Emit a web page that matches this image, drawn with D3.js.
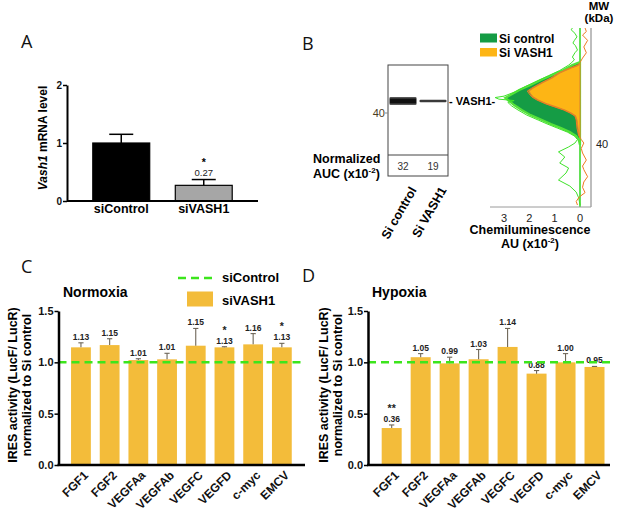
<!DOCTYPE html>
<html>
<head>
<meta charset="utf-8">
<script src="https://cdn.jsdelivr.net/npm/d3@7"></script>
<style>
  body { margin: 0; background: #fff; }
  svg { display: block; }
</style>
</head>
<body>
<svg id="fig" width="617" height="516"></svg>
<script>
// ---------- data ----------
// A: Vash1 mRNA
const rnaGroups = ['siControl', 'siVASH1'];
const rnaMean = [1.0, 0.27];
const rnaSem = [0.15, 0.10];
const rnaTicks = [0, 1, 2];

// B: capillary western
const laneNames = ['Si control', 'Si VASH1'];
const laneAuc = [32, 19];
const chemiTicks = [3, 2, 1, 0];
// [migration position (a.u., 0 = top), chemiluminescence x10^-2]
const ctrlPeak = [[19.2, 0], [20.9, 0.3], [23.7, 0.65], [26.6, 1.1], [29.4, 1.55], [32.2, 1.95],
  [35, 2.4], [37.9, 2.75], [39.5, 2.95], [41.2, 2.8], [43.5, 2.6], [46.3, 2.3], [49.2, 1.95],
  [52, 1.5], [54.2, 1.15], [56.5, 0.75], [58.8, 0.4], [61, 0.15], [63.3, 0.05], [66.1, 0]];
const vashPeak = [[20.3, 0], [21.5, 0.12], [22.6, 0.35], [25.4, 0.8], [28.2, 1.1], [31.1, 1.5],
  [33.9, 1.85], [35.6, 2.02], [37.3, 1.95], [39, 1.85], [40.7, 1.65], [42.9, 1.3], [44.6, 0.95],
  [46.3, 0.6], [48, 0.35], [49.7, 0.18], [52, 0.12], [56.5, 0.08], [60.5, 0.04], [62.1, 0]];
const ctrlTrace = [[0, 0.3], [1, 0.35], [3, 0.2], [5, 0.12], [7, 0.22], [8.5, 0.28], [10, 0.18],
  [12.4, 0.1], [14, 0.2], [16.4, 0.3], [18, 0.22], [19.8, 0.35], [21, 0.45], [24, 0.8], [27, 1.25],
  [30, 1.7], [33, 2.15], [36, 2.55], [38.5, 3.0], [39.3, 3.35], [40.2, 3.2], [41, 2.6], [42, 2.85],
  [44, 2.7], [46.3, 2.45], [49.2, 2.1], [52, 1.65], [54.2, 1.3], [56.5, 0.9], [58.8, 0.5], [61, 0.22],
  [63, 0.1], [65, 0.2], [67.2, 0.45], [70, 0.85], [72.9, 0.6], [76.3, 0.8], [79.1, 0.45], [81.9, 0.55],
  [85.9, 0.85], [89.3, 0.4], [92.7, 0.15], [96, 0.05], [100, 0]];
const vashTrace = [[0, -0.2], [2, -0.25], [4, -0.1], [7, -0.3], [10.7, -0.15], [14, -0.25], [17, -0.1],
  [19.5, 0], [21, 0.1], [22.6, 0.4], [25.4, 0.85], [28.2, 1.15], [31.1, 1.55], [33.9, 1.9], [35.6, 2.08],
  [37.3, 2.0], [39, 1.9], [40.7, 1.7], [42.9, 1.35], [44.6, 1.0], [46.3, 0.65], [48, 0.4], [49.7, 0.2],
  [52, 0.15], [56.5, 0.12], [60.5, 0.06], [63, -0.05], [65, -0.15], [68, -0.05], [70.6, -0.1],
  [74.6, -0.25], [78, -0.1], [80, -0.15], [84, -0.3], [87, -0.15], [90, -0.1], [93, -0.2], [95.5, 0.03],
  [98, 0.15], [100, 0.1]];

// C / D: IRES activity
const iresGenes = ['FGF1', 'FGF2', 'VEGFAa', 'VEGFAb', 'VEGFC', 'VEGFD', 'c-myc', 'EMCV'];
const iresTicks = [0, 0.5, 1.0, 1.5];
const normoxiaMean = [1.146, 1.168, 1.022, 1.029, 1.162, 1.146, 1.175, 1.146];
const normoxiaErr = [0.044, 0.062, 0.013, 0.059, 0.168, 0.006, 0.105, 0.039];
const normoxiaLabels = ['1.13', '1.15', '1.01', '1.01', '1.15', '1.13', '1.16', '1.13'];
const normoxiaStars = ['', '', '', '', '', '*', '', '*'];
const hypoxiaMean = [0.36, 1.05, 0.99, 1.03, 1.15, 0.89, 1.00, 0.955];
const hypoxiaErr = [0.03, 0.035, 0.06, 0.095, 0.18, 0.03, 0.085, 0.005];
const hypoxiaLabels = ['0.36', '1.05', '0.99', '1.03', '1.14', '0.88', '1.00', '0.95'];
const hypoxiaStars = ['**', '', '', '', '', '', '', ''];

// ---------- drawing ----------
const FONT = '"Liberation Sans", Arial, sans-serif';
const GOLD = '#f3bc3a';
const LIME = '#3ce51c';

const svg = d3.select('#fig').attr('font-family', FONT);
svg.append('rect').attr('width', 617).attr('height', 516).attr('fill', '#fff');

function letter(t, x, y) {
  svg.append('text').attr('x', x).attr('y', y).attr('font-family', '"Open Sans", sans-serif')
    .attr('font-size', 18).attr('fill', '#111').text(t);
}
letter('A', 21, 48);
letter('B', 302, 50);
letter('C', 21, 273);
letter('D', 302, 282);

function styleAxis(g, size) {
  g.attr('font-family', FONT).attr('font-size', size).attr('font-weight', 'bold');
  g.selectAll('text').attr('fill', '#111');
}

// ===== Panel A =====
const gA = svg.append('g');
const xA = d3.scaleBand().domain(rnaGroups).range([80, 245]).paddingInner(0.31).paddingOuter(0.155);
const yA = d3.scaleLinear().domain([0, 2]).range([201, 85]);

gA.selectAll('rect.bar').data(rnaGroups).join('rect')
  .attr('class', 'bar')
  .attr('x', d => xA(d))
  .attr('y', (d, i) => yA(rnaMean[i]))
  .attr('width', xA.bandwidth())
  .attr('height', (d, i) => yA(0) - yA(rnaMean[i]))
  .attr('fill', (d, i) => i === 0 ? '#000' : '#a6a6a6')
  .attr('stroke', '#000').attr('stroke-width', 1.2);

const errA = gA.selectAll('g.err').data(rnaGroups).join('g').attr('class', 'err')
  .attr('transform', d => `translate(${xA(d) + xA.bandwidth() / 2},0)`)
  .attr('stroke', '#000').attr('stroke-width', 1.5);
errA.append('line').attr('y1', (d, i) => yA(rnaMean[i])).attr('y2', (d, i) => yA(rnaMean[i] + rnaSem[i]));
errA.append('line').attr('x1', -12).attr('x2', 12)
  .attr('y1', (d, i) => yA(rnaMean[i] + rnaSem[i])).attr('y2', (d, i) => yA(rnaMean[i] + rnaSem[i]));

gA.append('g').attr('transform', 'translate(67,0)')
  .call(d3.axisLeft(yA).tickValues(rnaTicks).tickFormat(d3.format('d')).tickSize(4).tickSizeOuter(0).tickPadding(1))
  .call(g => styleAxis(g, 10))
  .call(g => g.select('.domain').attr('stroke-width', 2))
  .call(g => g.selectAll('.tick line').attr('stroke-width', 1.5));
gA.append('line').attr('x1', 67).attr('x2', 258).attr('y1', yA(0)).attr('y2', yA(0))
  .attr('stroke', '#000').attr('stroke-width', 2);

gA.selectAll('text.grp').data(rnaGroups).join('text').attr('class', 'grp')
  .attr('x', d => xA(d) + xA.bandwidth() / 2).attr('y', 213)
  .attr('text-anchor', 'middle').attr('font-size', 12.5).attr('font-weight', 'bold').text(d => d);

const vashA = xA('siVASH1') + xA.bandwidth() / 2;
const topA = yA(rnaMean[1] + rnaSem[1]);
gA.append('text').attr('x', vashA).attr('y', topA - 3.3)
  .attr('text-anchor', 'middle').attr('font-size', 9.5).attr('fill', '#222').text(rnaMean[1].toFixed(2));
gA.append('text').attr('x', vashA).attr('y', topA - 13.5)
  .attr('text-anchor', 'middle').attr('font-size', 10.5).attr('font-weight', 'bold').text('*');

const yLabA = gA.append('text').attr('transform', 'translate(47,138) rotate(-90)')
  .attr('text-anchor', 'middle').attr('font-size', 12).attr('font-weight', 'bold');
yLabA.append('tspan').attr('font-style', 'italic').text('Vash1');
yLabA.append('tspan').text(' mRNA level');

// ===== Panel B : gel =====
const gB = svg.append('g');
const defs = svg.append('defs');
const grad = defs.append('linearGradient').attr('id', 'band').attr('x1', 0).attr('x2', 0).attr('y1', 0).attr('y2', 1);
grad.append('stop').attr('offset', '0%').attr('stop-color', '#6a6a6a');
grad.append('stop').attr('offset', '30%').attr('stop-color', '#111');
grad.append('stop').attr('offset', '70%').attr('stop-color', '#111');
grad.append('stop').attr('offset', '100%').attr('stop-color', '#6a6a6a');

const laneX = d3.scaleBand().domain(laneNames).range([388, 448]).paddingInner(0.1).paddingOuter(0.05);
const bandThick = d3.scaleLinear().domain([19, 32]).range([2.5, 8]);
const bandY = 101;

gB.append('rect').attr('x', 388).attr('y', 65).attr('width', 60).attr('height', 111)
  .attr('fill', '#fff').attr('stroke', '#444').attr('stroke-width', 1);
gB.append('line').attr('x1', 388).attr('x2', 448).attr('y1', 155).attr('y2', 155)
  .attr('stroke', '#444').attr('stroke-width', 1);

gB.selectAll('rect.band').data(laneNames).join('rect').attr('class', 'band')
  .attr('x', d => laneX(d))
  .attr('width', laneX.bandwidth())
  .attr('y', (d, i) => bandY - bandThick(laneAuc[i]) / 2)
  .attr('height', (d, i) => bandThick(laneAuc[i]))
  .attr('rx', 1)
  .attr('fill', (d, i) => i === 0 ? 'url(#band)' : '#3a3a3a');

gB.selectAll('text.auc').data(laneNames).join('text').attr('class', 'auc')
  .attr('x', d => laneX(d) + laneX.bandwidth() / 2).attr('y', 170)
  .attr('text-anchor', 'middle').attr('font-size', 10).attr('fill', '#333')
  .text((d, i) => laneAuc[i]);

gB.selectAll('text.lane').data(laneNames).join('text').attr('class', 'lane')
  .attr('transform', d => `translate(${laneX(d) + laneX.bandwidth() / 2 + 14},190) rotate(-60)`)
  .attr('text-anchor', 'end').attr('font-size', 12.5).attr('font-weight', 'bold').text(d => d);

gB.append('text').attr('x', 449).attr('y', 104.5).attr('font-size', 11).attr('font-weight', 'bold').text('- VASH1-');
gB.append('text').attr('x', 385).attr('y', 117).attr('text-anchor', 'end').attr('font-size', 11)
  .attr('fill', '#4a3c22').text('40');
gB.append('line').attr('x1', 385).attr('x2', 388).attr('y1', 113).attr('y2', 113).attr('stroke', '#888');

gB.append('text').attr('x', 313).attr('y', 162.5).attr('font-size', 12.5).attr('font-weight', 'bold').text('Normalized');
const auc = gB.append('text').attr('x', 313).attr('y', 177.5).attr('font-size', 12.5).attr('font-weight', 'bold');
auc.append('tspan').text('AUC (x10');
auc.append('tspan').attr('dy', -5).attr('font-size', 8).text('-2');
auc.append('tspan').attr('dy', 5).text(')');

// ===== Panel B : electropherogram =====
const gP = svg.append('g');
const yP = d3.scaleLinear().domain([0, 100]).range([28, 205]);
const xP = d3.scaleLinear().domain([0, 3]).range([580, 504]);

gP.append('line').attr('x1', 591).attr('x2', 591).attr('y1', 28).attr('y2', 207)
  .attr('stroke', '#bdbdbd').attr('stroke-width', 2);
gP.append('line').attr('x1', xP(0)).attr('x2', xP(0)).attr('y1', 28).attr('y2', 207)
  .attr('stroke', '#2fd61c').attr('stroke-width', 1.5);

const area = d3.area().y(d => yP(d[0])).x0(xP(0)).x1(d => xP(d[1]));
const line = d3.line().y(d => yP(d[0])).x(d => xP(d[1]));

gP.append('path').datum(ctrlPeak).attr('d', area)
  .attr('fill', '#159c45').attr('stroke', '#54e23a').attr('stroke-width', 2.2);
gP.append('path').datum(vashPeak).attr('d', area)
  .attr('fill', '#fdb515').attr('stroke', '#de8a2c').attr('stroke-width', 1.2);
gP.append('path').datum(ctrlTrace).attr('d', line)
  .attr('fill', 'none').attr('stroke', '#3fe22a').attr('stroke-width', 1);
gP.append('path').datum(vashTrace).attr('d', line)
  .attr('fill', 'none').attr('stroke', '#f07a22').attr('stroke-width', 1);

gP.append('line').attr('x1', 490).attr('x2', 591).attr('y1', 207).attr('y2', 207)
  .attr('stroke', '#9a9a9a').attr('stroke-width', 1);
gP.selectAll('text.ct').data(chemiTicks).join('text').attr('class', 'ct')
  .attr('x', d => xP(d)).attr('y', 221.5).attr('text-anchor', 'middle')
  .attr('font-size', 11).attr('fill', '#222').text(d => d);

gP.append('text').attr('x', 530).attr('y', 233.5).attr('text-anchor', 'middle')
  .attr('font-size', 12.5).attr('font-weight', 'bold').text('Chemiluminescence');
const au = gP.append('text').attr('x', 530).attr('y', 248).attr('text-anchor', 'middle')
  .attr('font-size', 12.5).attr('font-weight', 'bold');
au.append('tspan').text('AU (x10');
au.append('tspan').attr('dy', -5).attr('font-size', 8).text('-2');
au.append('tspan').attr('dy', 5).text(')');

gP.append('text').attr('x', 599).attr('y', 10).attr('text-anchor', 'middle')
  .attr('font-size', 11.5).attr('font-weight', 'bold').text('MW');
gP.append('text').attr('x', 599).attr('y', 22).attr('text-anchor', 'middle')
  .attr('font-size', 11.5).attr('font-weight', 'bold').text('(kDa)');
gP.append('text').attr('x', 596).attr('y', 148).attr('font-size', 11).attr('fill', '#222').text('40');

const legB = gP.append('g');
legB.append('rect').attr('x', 480).attr('y', 33.5).attr('width', 17).attr('height', 9).attr('fill', '#159c45');
legB.append('text').attr('x', 499).attr('y', 42.5).attr('font-size', 12).attr('font-weight', 'bold').text('Si control');
legB.append('rect').attr('x', 480).attr('y', 48).attr('width', 17).attr('height', 8.5).attr('fill', '#fdb515');
legB.append('text').attr('x', 499).attr('y', 56.5).attr('font-size', 12).attr('font-weight', 'bold').text('Si VASH1');

// ===== Panels C / D =====
function drawIres(o) {
  const g = svg.append('g');
  const x = d3.scaleBand().domain(iresGenes).range(o.range).paddingInner(0.31).paddingOuter(0.155);
  const y = d3.scaleLinear().domain([0, 1.5]).range([465, 311]);
  const cx = d => x(d) + x.bandwidth() / 2;

  g.selectAll('rect.bar').data(iresGenes).join('rect').attr('class', 'bar')
    .attr('x', d => x(d)).attr('width', x.bandwidth())
    .attr('y', (d, i) => y(o.mean[i]))
    .attr('height', (d, i) => y(0) - y(o.mean[i]))
    .attr('fill', GOLD);

  const err = g.selectAll('g.err').data(iresGenes).join('g').attr('class', 'err')
    .attr('transform', d => `translate(${cx(d)},0)`)
    .attr('stroke', '#6e6658').attr('stroke-width', 1.1);
  err.append('line').attr('y1', (d, i) => y(o.mean[i])).attr('y2', (d, i) => y(o.mean[i] + o.err[i]));
  err.append('line').attr('x1', -2.6).attr('x2', 2.6)
    .attr('y1', (d, i) => y(o.mean[i] + o.err[i])).attr('y2', (d, i) => y(o.mean[i] + o.err[i]));

  g.selectAll('text.val').data(iresGenes).join('text').attr('class', 'val')
    .attr('x', cx).attr('y', (d, i) => y(o.mean[i] + o.err[i]) - 3)
    .attr('text-anchor', 'middle').attr('font-size', 8.5).attr('font-weight', 'bold').attr('fill', '#222')
    .text((d, i) => o.labels[i]);
  g.selectAll('text.star').data(iresGenes.filter((d, i) => o.stars[i])).join('text').attr('class', 'star')
    .attr('x', cx).attr('y', d => y(o.mean[iresGenes.indexOf(d)] + o.err[iresGenes.indexOf(d)]) - 13)
    .attr('text-anchor', 'middle').attr('font-size', 10.5).attr('font-weight', 'bold').attr('fill', '#222')
    .text(d => o.stars[iresGenes.indexOf(d)]);

  g.append('line').attr('x1', o.axisX).attr('x2', o.dashEnd).attr('y1', y(1)).attr('y2', y(1))
    .attr('stroke', LIME).attr('stroke-width', 2.5).attr('stroke-dasharray', '8,5');

  g.append('g').attr('transform', `translate(${o.axisX},0)`)
    .call(d3.axisLeft(y).tickValues(iresTicks).tickFormat(d3.format('.1f')).tickSize(4).tickSizeOuter(0).tickPadding(1))
    .call(a => styleAxis(a, 11))
    .call(a => a.select('.domain').attr('stroke-width', 2.5))
    .call(a => a.selectAll('.tick line').attr('stroke-width', 1.5));

  g.append('g').attr('transform', `translate(0,${y(0)})`)
    .call(d3.axisBottom(x).tickSize(0))
    .call(a => styleAxis(a, 12))
    .call(a => a.select('.domain').remove())
    .call(a => a.selectAll('text').attr('y', 0).attr('dy', 0).attr('text-anchor', 'end')
      .attr('transform', 'translate(8,11) rotate(-45)'));
  g.append('line').attr('x1', o.axisX - 1).attr('x2', o.axisEnd).attr('y1', y(0)).attr('y2', y(0))
    .attr('stroke', '#000').attr('stroke-width', 2.5);

  g.append('text').attr('x', o.titleX).attr('y', 297).attr('font-size', 14).attr('font-weight', 'bold').text(o.title);

  const lab = ['IRES activity (LucF/ LucR)', 'normalized to Si control'];
  g.selectAll('text.ylab').data(lab).join('text').attr('class', 'ylab')
    .attr('transform', (d, i) => `translate(${o.labX[i]},385) rotate(-90)`)
    .attr('text-anchor', 'middle').attr('font-size', 12.5).attr('font-weight', 'bold').text(d => d);
  return g;
}

drawIres({ range: [66.6, 296.2], axisX: 58.5, axisEnd: 305, dashEnd: 302, titleX: 63,
  title: 'Normoxia', labX: [17, 31], mean: normoxiaMean, err: normoxiaErr,
  labels: normoxiaLabels, stars: normoxiaStars });
drawIres({ range: [377.2, 609], axisX: 368, axisEnd: 610, dashEnd: 612, titleX: 372,
  title: 'Hypoxia', labX: [328, 342], mean: hypoxiaMean, err: hypoxiaErr,
  labels: hypoxiaLabels, stars: hypoxiaStars });

// legend for C
const legC = svg.append('g');
legC.append('line').attr('x1', 178).attr('x2', 212).attr('y1', 278).attr('y2', 278)
  .attr('stroke', LIME).attr('stroke-width', 2.5).attr('stroke-dasharray', '8,5');
legC.append('text').attr('x', 222).attr('y', 281.5).attr('font-size', 13).attr('font-weight', 'bold').text('siControl');
legC.append('rect').attr('x', 187).attr('y', 291.5).attr('width', 26).attr('height', 15).attr('fill', GOLD);
legC.append('text').attr('x', 222).attr('y', 305).attr('font-size', 13).attr('font-weight', 'bold').text('siVASH1');
</script>
</body>
</html>
